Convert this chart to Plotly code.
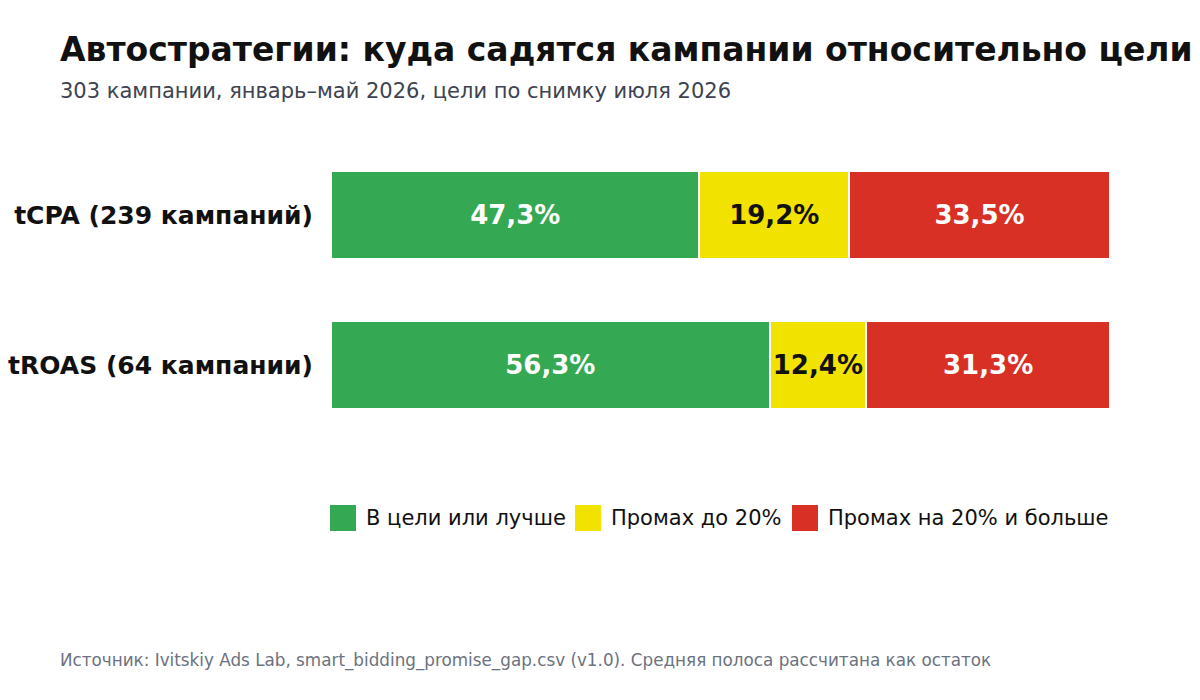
import plotly.graph_objects as go

# данные
strategies = ['tCPA (239 кампаний)', 'tROAS (64 кампании)']
series_names = ['В цели или лучше', 'Промах до 20%', 'Промах на 20% и больше']
on_target = [47.3, 56.3]
miss_small = [19.2, 12.4]
miss_big = [33.5, 31.3]

colors = ['#35a854', '#f2e200', '#d93025']
text_colors = ['white', '#111111', 'white']

W, H = 1200, 700
L, R, T, B = 331, 90, 140, 260


def px_x(px):
    return (px - L) / (W - L - R)


def px_y(py):
    return (H - B - py) / (H - T - B)


def fmt(v):
    return f'{v:.1f}'.replace('.', ',') + '%'


fig = go.Figure()
for name, vals, col, tcol in zip(series_names, [on_target, miss_small, miss_big], colors, text_colors):
    fig.add_trace(go.Bar(
        y=strategies, x=vals, name=name, orientation='h',
        marker=dict(color=col, line=dict(color='white', width=2)),
        text=[fmt(v) for v in vals], textposition='inside', insidetextanchor='middle',
        textfont=dict(family='DejaVu Sans', size=26, color=tcol, weight='bold'),
        showlegend=False, hoverinfo='skip', cliponaxis=False,
    ))

# легенда вручную: крупные квадраты
legend_x = [330, 575, 792]
for name, col, x0 in zip(series_names, colors, legend_x):
    fig.add_shape(type='rect', xref='paper', yref='paper',
                  x0=px_x(x0), x1=px_x(x0 + 26), y0=px_y(531), y1=px_y(505),
                  fillcolor=col, line=dict(width=0))
    fig.add_annotation(text=name, xref='paper', yref='paper', x=px_x(x0 + 34), y=px_y(518),
                       xanchor='left', yanchor='middle', showarrow=False,
                       font=dict(family='DejaVu Sans', size=21, color='#111111'))

fig.add_annotation(text='<b>Автостратегии: куда садятся кампании относительно цели</b>',
                   xref='paper', yref='paper', x=px_x(58), y=px_y(50), xanchor='left', yanchor='middle',
                   showarrow=False, font=dict(family='DejaVu Sans', size=33, color='#111111'))
fig.add_annotation(text='303 кампании, январь–май 2026, цели по снимку июля 2026',
                   xref='paper', yref='paper', x=px_x(58), y=px_y(91), xanchor='left', yanchor='middle',
                   showarrow=False, font=dict(family='DejaVu Sans', size=21, color='#3d4350'))
fig.add_annotation(text='Источник: Ivitskiy Ads Lab, smart_bidding_promise_gap.csv (v1.0). Средняя полоса рассчитана как остаток',
                   xref='paper', yref='paper', x=px_x(58), y=px_y(660), xanchor='left', yanchor='middle',
                   showarrow=False, font=dict(family='DejaVu Sans', size=16.8, color='#6b7280'))

fig.update_layout(
    width=W, height=H, barmode='stack', bargap=0.413,
    margin=dict(l=L, r=R, t=T, b=B),
    paper_bgcolor='white', plot_bgcolor='white',
    font=dict(family='DejaVu Sans'),
    uniformtext=dict(minsize=10, mode='show'),
    xaxis=dict(range=[0, 100], visible=False, fixedrange=True, automargin=False),
    yaxis=dict(categoryorder='array', categoryarray=strategies, range=[1.5, -0.5],
               showgrid=False, zeroline=False, showline=False, ticks='',
               ticklabelstandoff=17, fixedrange=True, automargin=False,
               tickfont=dict(family='DejaVu Sans', size=25, color='#111111', weight='bold')),
)

# ставим график точно в угол окна, без отступов и полос прокрутки
js = """
document.documentElement.style.overflow = 'hidden';
document.body.style.margin = '0';
document.body.style.overflow = 'hidden';
var gd = document.getElementById('{plot_id}');
gd.style.position = 'absolute';
gd.style.left = '0px';
gd.style.top = '0px';
"""
fig.write_html('out.html', config={'displayModeBar': False}, post_script=js)
